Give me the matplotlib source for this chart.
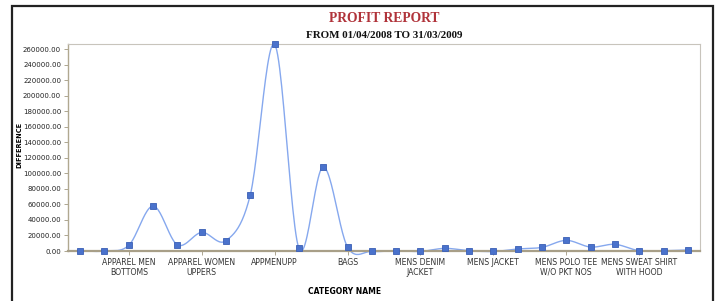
import numpy as np
import matplotlib.pyplot as plt
from matplotlib.patches import Rectangle

# values (26 categories, only some labelled)
values = [0, 0, 7300, 58000, 8000, 24000, 13300, 72500, 266500, 3400,
          108500, 5100, -500, 300, -500, 3400, 400, -600, 2600, 4700,
          13700, 5100, 8600, 400, 400, 1300]
label_pos = [2, 5, 8, 11, 14, 17, 20, 23]
labels = ['APPAREL MEN\nBOTTOMS', 'APPAREL WOMEN\nUPPERS', 'APPMENUPP', 'BAGS',
          'MENS DENIM\nJACKET', 'MENS JACKET', 'MENS POLO TEE\nW/O PKT NOS',
          'MENS SWEAT SHIRT\nWITH HOOD']
yticks = np.arange(0, 260001, 20000)


def catmull_rom(x, y, n=24):
    # smooth curve through the points, like the original renderer
    x = np.asarray(x, float)
    y = np.asarray(y, float)
    px = np.concatenate([[2 * x[0] - x[1]], x, [2 * x[-1] - x[-2]]])
    py = np.concatenate([[y[0]], y, [y[-1]]])
    xs, ys = [], []
    t = np.linspace(0, 1, n, endpoint=False)
    for i in range(1, len(px) - 2):
        for p, out in ((px, xs), (py, ys)):
            p0, p1, p2, p3 = p[i - 1], p[i], p[i + 1], p[i + 2]
            out.extend(0.5 * (2 * p1 + (-p0 + p2) * t
                              + (2 * p0 - 5 * p1 + 4 * p2 - p3) * t ** 2
                              + (-p0 + 3 * p1 - 3 * p2 + p3) * t ** 3))
    xs.append(x[-1])
    ys.append(y[-1])
    return np.array(xs), np.array(ys)


fig = plt.figure(figsize=(7.18, 3.01), dpi=100)
W, H = 718, 301
ax = fig.add_axes([68 / W, (H - 251) / H, 632 / W, 207 / H])

x = np.arange(len(values))
sx, sy = catmull_rom(x, values)
ax.plot(sx, sy, color='#86a8ee', lw=1.0, clip_on=False, zorder=2)
ax.plot(x, values, ls='none', marker='s', ms=4.2, mfc='#4a72cc', mec='#3a5fb5',
        mew=0.6, clip_on=False, zorder=3)

ax.set_xlim(-0.5, len(values) - 0.5)
ax.set_ylim(0, 267000)
ax.set_yticks(yticks)
ax.set_yticklabels(['%.2f' % v for v in yticks], fontsize=5, color='#222222')
ax.set_xticks(label_pos)
ax.set_xticklabels(labels, fontsize=5.6, color='#333333', linespacing=1.1)
ax.tick_params(axis='both', length=3, width=0.6, color='#a09880', pad=2)

for s in ('top', 'right'):
    ax.spines[s].set_color('#c8c4bc')
    ax.spines[s].set_linewidth(0.8)
ax.spines['left'].set_color('#b0a890')
ax.spines['left'].set_linewidth(1.0)
ax.spines['bottom'].set_color('#a89f88')
ax.spines['bottom'].set_linewidth(1.6)

fig.text(19 / W, 1 - 145 / H, 'DIFFERENCE', rotation=90, fontsize=4.8,
         fontweight='bold', ha='center', va='center')
fig.text(345 / W, 1 - 291 / H, 'CATEGORY NAME', fontsize=5.5,
         fontweight='bold', ha='center', va='center')
fig.text(384 / W, 1 - 19 / H, 'PROFIT REPORT', family='Liberation Serif',
         fontsize=9.8, fontweight='bold', color='#b0333a', ha='center', va='center')
fig.text(384 / W, 1 - 35 / H, 'FROM 01/04/2008 TO 31/03/2009',
         family='Liberation Serif', fontsize=7.9, fontweight='bold',
         color='#111111', ha='center', va='center')

# outer frame of the report
fig.patches.append(Rectangle((12 / W, -0.05), (713 - 12) / W, 1.05 - 6 / H,
                             transform=fig.transFigure, fill=False,
                             ec='#222222', lw=1.6))

fig.savefig('out.png', dpi=100)
